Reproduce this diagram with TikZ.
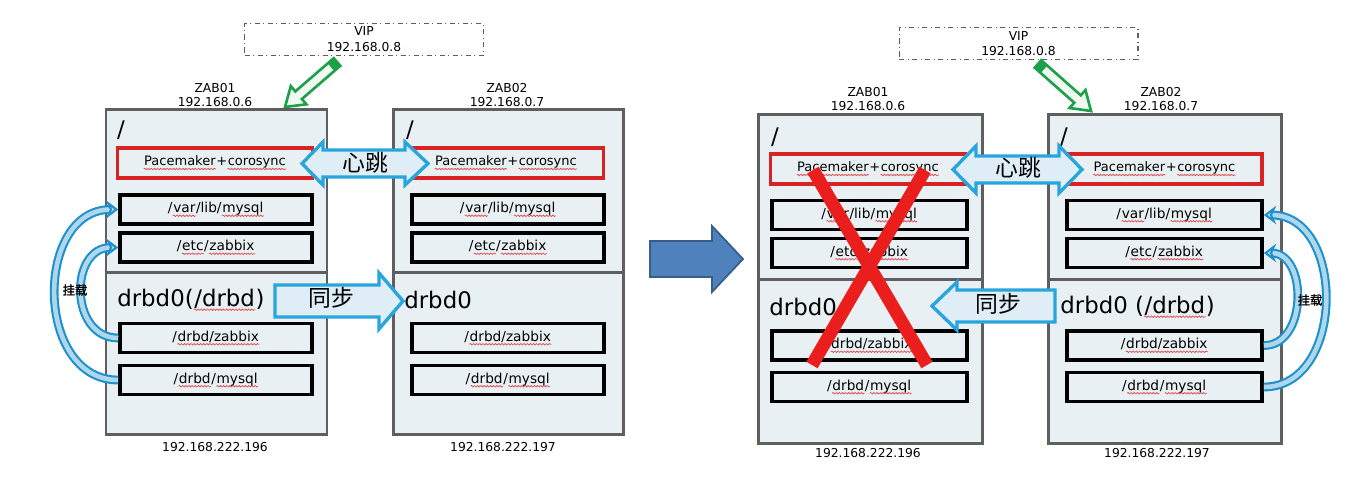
\documentclass[tikz,border=0pt]{standalone}
\usepackage{fontspec}
\setmainfont{DejaVu Sans}
\newfontfamily\cjk{Noto Sans CJK SC}
\newfontfamily\cjkbold[FakeBold = 1.5]{Noto Sans CJK SC}
\usetikzlibrary{arrows.meta, decorations.pathmorphing}

\definecolor{boxfill}{RGB}{232,240,244}
\definecolor{servergray}{RGB}{95,95,95}
\definecolor{hbred}{RGB}{215,35,35}
\definecolor{syncblue}{RGB}{40,165,220}
\definecolor{syncfill}{RGB}{222,237,246}
\definecolor{mountblue}{RGB}{30,145,205}
\definecolor{mountfill}{RGB}{175,215,235}
\definecolor{bigblue}{RGB}{79,129,189}
\definecolor{bigedge}{RGB}{56,93,138}
\definecolor{vipgreen}{RGB}{30,160,75}
\definecolor{vipfill}{RGB}{240,248,242}
\definecolor{failred}{RGB}{235,30,30}
\definecolor{typored}{RGB}{230,60,60}

%% red wavy underline of the spell checker
\tikzset{
	typo/.style = {draw = typored, line width = 0.35pt, decorate, decoration = {snake, amplitude = 0.45pt, segment length = 1.8pt}},
	typoword/.style = {shape = rectangle, draw = none, fill = none, inner sep = 0pt, minimum width = 0pt, minimum height = 0pt}}
\newcommand\typo[1]{\tikz[baseline = (w.base)]{\node[typoword] (w) {#1}; \draw[typo] ([yshift = -1.8pt]w.base west) -- ([yshift = -1.8pt]w.base east);}}

\begin{document}
\begin{tikzpicture}
	[
	x = {(0.020000cm, 0.000000cm)},
	y = {(0.000000cm, -0.020000cm)},
	server/.style = {draw = servergray, line width = 1.7pt, fill = boxfill},
	part/.style = {draw = black, line width = 2.1pt, fill = boxfill, minimum height = 0.58cm, inner sep = 0pt, font = \fontsize{7.8}{9}\selectfont},
	partL/.style = {part, minimum width = 3.84cm},
	partR/.style = {part, minimum width = 3.90cm},
	hbbox/.style = {part, draw = hbred, line width = 1.9pt, minimum width = 3.90cm, minimum height = 0.60cm, font = \fontsize{7.4}{9}\selectfont},
	tag/.style = {inner sep = 0pt, align = center, font = \fontsize{7}{8.5}\selectfont},
	vip/.style = {draw = servergray, dash dot, line width = 0.6pt, fill = white, minimum width = 4.78cm, minimum height = 0.63cm, inner sep = 0pt, align = center, font = \fontsize{7}{9}\selectfont},
	root/.style = {inner sep = 0pt, font = \fontsize{13}{15}\selectfont},
	drbd/.style = {inner sep = 0pt, anchor = west, font = \fontsize{13}{15}\selectfont},
	blockarrow/.style = {draw = syncblue, line width = 1.9pt, fill = syncfill, line join = miter},
	arrowtext/.style = {inner sep = 0pt, font = \cjk\fontsize{13}{15}\selectfont},
	greenarrow/.style = {draw = vipgreen, line width = 1.5pt, fill = vipfill, line join = miter},
	bigarrow/.style = {draw = bigedge, line width = 1pt, fill = bigblue, line join = miter},
	mount/.style = {draw = mountblue, double = mountfill, line width = 1.2pt, double distance = 2.6pt, -{Stealth[length = 7pt, width = 10.5pt, fill = mountfill]}},
	mounttag/.style = {inner sep = 0pt, font = \cjkbold\fontsize{7}{8}\selectfont},
	failx/.style = {draw = failred, line width = 7.4pt}]
	
	\useasboundingbox (0, 0) rectangle (1351, 485);
	
	%% Left picture: ZAB01 active
	
	\node[vip] (vipL) at (364, 39.5) {VIP\\192.168.0.8};
	\filldraw[greenarrow] (340.3, 65.8) -- (301.9, 99.0) -- (306.4, 104.3) -- (285, 107) -- (290.8, 86.1) -- (295.3, 91.4) -- (333.7, 58.2) -- cycle;
	\fill[vipgreen] (340.3, 65.8) -- (334.3, 71.0) -- (327.7, 63.4) -- (333.7, 58.2) -- cycle;
	
	\node[tag] (nameL1) at (215, 95) {ZAB01\\192.168.0.6};
	\node[tag] (nameL2) at (507, 95) {ZAB02\\192.168.0.7};
	\node[tag] (ipL1) at (215, 447) {192.168.222.196};
	\node[tag] (ipL2) at (503, 447) {192.168.222.197};
	
	\draw[server] (106, 109) rectangle (327, 272);
	\draw[server] (106, 272) rectangle (327, 434);
	\draw[server] (393, 109) rectangle (623, 272);
	\draw[server] (393, 272) rectangle (623, 434);
	
	\node[root] (slL1) at (121, 130) {/};
	\node[hbbox] (pcL1) at (215, 163) {\typo{Pacemaker}+\typo{corosync}};
	\node[partL] (vlL1) at (216, 209.5) {/\typo{var}/lib/\typo{mysql}};
	\node[partL] (ezL1) at (216, 247.5) {/\typo{etc}/\typo{zabbix}};
	\node[drbd] (dbL1) at (117, 300) {drbd0(\typo{/drbd})};
	\node[partL] (dzL1) at (216, 338) {/\typo{drbd/zabbix}};
	\node[partL] (dmL1) at (216, 380) {/\typo{drbd}/\typo{mysql}};
	
	\node[root] (slL2) at (410, 130) {/};
	\node[hbbox] (pcL2) at (506, 163) {\typo{Pacemaker}+\typo{corosync}};
	\node[partL] (vlL2) at (508, 209.5) {/\typo{var}/lib/\typo{mysql}};
	\node[partL] (ezL2) at (508, 247.5) {/\typo{etc}/\typo{zabbix}};
	\node[drbd] (dbL2) at (404, 300) {drbd0};
	\node[partL] (dzL2) at (508, 338) {/\typo{drbd/zabbix}};
	\node[partL] (dmL2) at (508, 380) {/\typo{drbd}/\typo{mysql}};
	
	%% heartbeat and sync
	\filldraw[blockarrow] (302, 163.5) -- (323, 142) -- (323, 150) -- (405, 150) -- (405, 142) -- (428, 163.5) -- (405, 185) -- (405, 177) -- (323, 177) -- (323, 185) -- cycle;
	\node[arrowtext] (hbL) at (365, 163) {心跳};
	\filldraw[blockarrow] (275, 285) -- (379, 285) -- (379, 273) -- (403, 301) -- (379, 329) -- (379, 317) -- (275, 317) -- cycle;
	\node[arrowtext] (syL) at (331, 298) {同步};
	
	%% mounts
	\draw[mount] (dmL1.west) .. controls +(-84, 0) and +(-84, 0) .. (vlL1.west);
	\draw[mount] (dzL1.west) .. controls +(-49, 0) and +(-49, 0) .. (ezL1.west);
	\node[mounttag] (mtL) at (75, 290) {挂载};
	
	%% Switch over
	\filldraw[bigarrow] (650, 241) -- (712, 241) -- (712, 226) -- (743, 259) -- (712, 292) -- (712, 277) -- (650, 277) -- cycle;
	
	%% Right picture: ZAB02 takes over
	
	\node[vip] (vipR) at (1018.5, 43.5) {VIP\\192.168.0.8};
	\filldraw[greenarrow] (1034.7, 67.7) -- (1074.2, 102.7) -- (1069.5, 108.0) -- (1091, 111) -- (1085.5, 90.0) -- (1080.8, 95.3) -- (1041.3, 60.3) -- cycle;
	\fill[vipgreen] (1034.7, 67.7) -- (1040.7, 73.0) -- (1047.3, 65.6) -- (1041.3, 60.3) -- cycle;
	
	\node[tag] (nameR1) at (868, 99) {ZAB01\\192.168.0.6};
	\node[tag] (nameR2) at (1161, 99) {ZAB02\\192.168.0.7};
	\node[tag] (ipR1) at (868, 453) {192.168.222.196};
	\node[tag] (ipR2) at (1157, 453) {192.168.222.197};
	
	\draw[server] (758, 114) rectangle (982, 279);
	\draw[server] (758, 279) rectangle (982, 443);
	\draw[server] (1048, 114) rectangle (1281, 279);
	\draw[server] (1048, 279) rectangle (1281, 443);
	
	\node[root] (slR1) at (775, 137) {/};
	\node[hbbox] (pcR1) at (868, 169) {\typo{Pacemaker}+\typo{corosync}};
	\node[partR] (vlR1) at (869.5, 215) {/\typo{var}/lib/\typo{mysql}};
	\node[partR] (ezR1) at (869.5, 253) {/\typo{etc}/\typo{zabbix}};
	\node[drbd] (dbR1) at (769, 307) {drbd0};
	\node[partR] (dzR1) at (869.5, 345.5) {/\typo{drbd/zabbix}};
	\node[partR] (dmR1) at (869.5, 387) {/\typo{drbd}/\typo{mysql}};
	
	\node[root] (slR2) at (1064, 137) {/};
	\node[hbbox] (pcR2) at (1164.5, 169) {\typo{Pacemaker}+\typo{corosync}};
	\node[partR] (vlR2) at (1164.5, 215) {/\typo{var}/lib/\typo{mysql}};
	\node[partR] (ezR2) at (1164.5, 253) {/\typo{etc}/\typo{zabbix}};
	\node[drbd] (dbR2) at (1060, 307) {drbd0 (\typo{/drbd})};
	\node[partR] (dzR2) at (1164.5, 345.5) {/\typo{drbd/zabbix}};
	\node[partR] (dmR2) at (1164.5, 387) {/\typo{drbd}/\typo{mysql}};
	
	%% heartbeat and sync
	\filldraw[blockarrow] (953, 169.5) -- (976, 146) -- (976, 156) -- (1059, 156) -- (1059, 146) -- (1082, 169.5) -- (1059, 193) -- (1059, 183) -- (976, 183) -- (976, 193) -- cycle;
	\node[arrowtext] (hbR) at (1018, 168) {心跳};
	\filldraw[blockarrow] (1055, 290) -- (957, 290) -- (957, 282) -- (932, 306) -- (957, 330) -- (957, 322) -- (1055, 322) -- cycle;
	\node[arrowtext] (syR) at (998, 304) {同步};
	
	%% mounts
	\draw[mount] (dmR2.east) .. controls +(82, 0) and +(82, 0) .. (vlR2.east);
	\draw[mount] (dzR2.east) .. controls +(44, 0) and +(44, 0) .. (ezR2.east);
	\node[mounttag] (mtR) at (1310, 300) {挂载};
	
	%% ZAB01 is down
	\draw[failx] (813, 170) -- (927, 365);
	\draw[failx] (925, 170) -- (812, 365);
\end{tikzpicture}
\end{document}
